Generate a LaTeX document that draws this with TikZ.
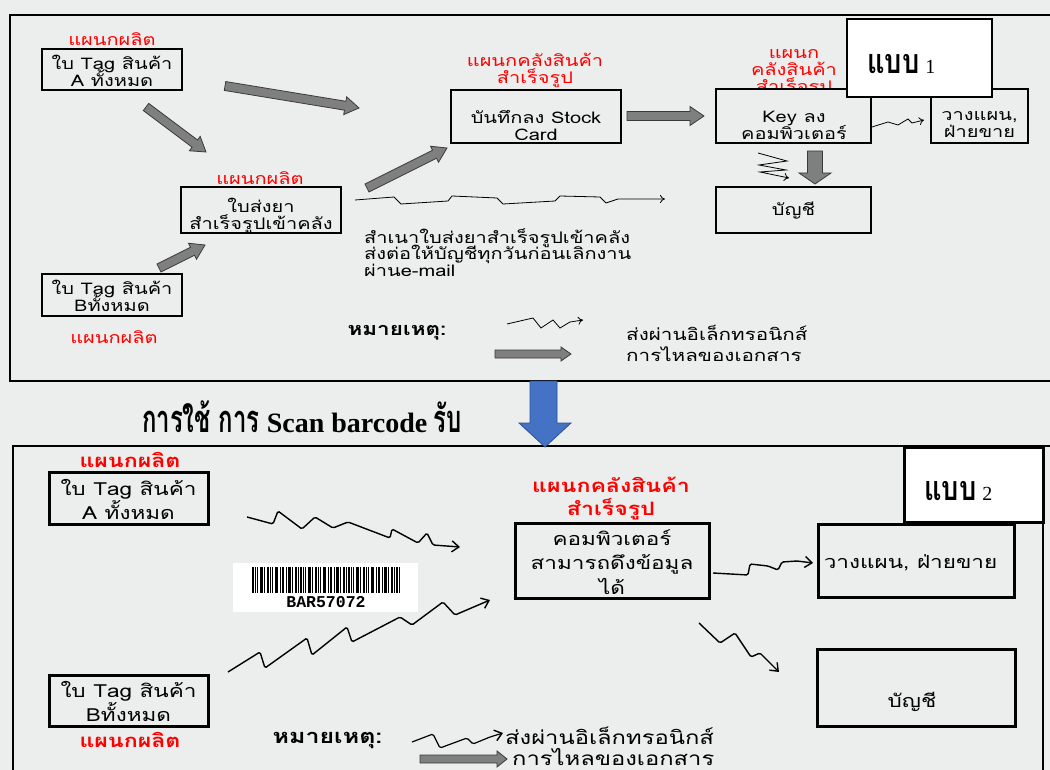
\documentclass[tikz,border=0pt]{standalone}
\usepackage{fontspec}
\setmainfont[Script=Thai, FakeStretch=1.25]{Loma}
\newfontfamily\latinserif{Liberation Serif}
\newfontfamily\barfont{Liberation Mono}
\newfontfamily\thaititle[Script=Thai, FakeStretch=0.63]{Loma}
\newfontfamily\thaimark[Script=Thai, FakeStretch=0.8]{Loma}
\usetikzlibrary{arrows.meta,calc}
\lineskiplimit=-100pt
\definecolor{bg}{HTML}{ECEDED}
\definecolor{lblred}{HTML}{FF0000}
\definecolor{gfill}{HTML}{7F7F7F}
\definecolor{gdraw}{HTML}{3A3A3A}
\definecolor{bluefill}{HTML}{4472C4}
\definecolor{blueedge}{HTML}{2F528F}
\newcommand\garrow[5]{%
  \path[garrowst] let \p1=(#1), \p2=(#2), \n1={atan2(\y2-\y1,\x2-\x1)}, \n2={veclen(\x2-\x1,\y2-\y1)} in
   [shift={(\p1)}, rotate=\n1] (0,-#3) -- ({\n2-#5},-#3) -- ({\n2-#5},-#4) -- (\n2,0) -- ({\n2-#5},#4) -- ({\n2-#5},#3) -- (0,#3) -- cycle;}
\tikzset{
  frame/.style={draw=black, line width=1.5pt},
  box/.style={draw=black, line width=2.6pt, inner sep=0pt},
  boxb/.style={draw=black, line width=3pt, inner sep=0pt},
  ts/.style={font=\fontsize{16}{17}\selectfont, align=center, inner sep=0pt},
  tsl/.style={font=\fontsize{16}{16.5}\selectfont, align=left, inner sep=0pt},
  lbl/.style={text=lblred, font=\fontsize{16}{17}\selectfont, align=center, inner sep=0pt},
  tb/.style={font=\fontsize{18}{24.5}\selectfont, align=center, inner sep=0pt},
  lblb/.style={text=lblred, font=\fontsize{18.5}{23}\selectfont\bfseries, align=center, inner sep=0pt},
  garrowst/.style={fill=gfill, draw=gdraw, line width=0.8pt, line join=miter},
  elec/.style={draw=black, line width=0.8pt, -{To[length=5pt,width=8pt]}},
  elecb/.style={draw=black, line width=1.4pt, rounded corners=1.5pt, -{Straight Barb[length=7pt,width=11pt,line width=1.4pt]}},
}
\begin{document}
\begin{tikzpicture}[x=1pt,y=-1pt]
\useasboundingbox (0,0) rectangle (1050,770);
\fill[bg] (0,0) rectangle (1050,770);
% ---------- frames
\draw[frame] (1060,15) -- (10,15) -- (10,381) -- (1060,381);
\draw[frame] (1060,446) -- (13,446) -- (13,780);
\draw[frame] (1043,446) -- (1043,780);
% ================= TOP (แบบ 1)
\node[lbl] (lblA) at (112,39) {แผนกผลิต};
\node[box, minimum width=140, minimum height=41] (tagA) at (112,69.5) {};
\node[ts] (tagAt) at (112,70.5) {ใบ Tag สินค้า\\A ทั้งหมด};
\node[lbl] (lblS) at (260,178) {แผนกผลิต};
\node[box, minimum width=160, minimum height=46] (slip) at (261,210) {};
\node[ts] (slipt) at (261,216) {ใบส่งยา\\สำเร็จรูปเข้าคลัง};
\node[box, minimum width=140, minimum height=42] (tagB) at (112,295) {};
\node[ts] (tagBt) at (112,296) {ใบ Tag สินค้า\\Bทั้งหมด};
\node[lbl] (lblB) at (114,337) {แผนกผลิต};
\node[lbl] (lblStock) at (535,70.5) {แผนกคลังสินค้า\\สำเร็จรูป};
\node[box, minimum width=170, minimum height=53] (stock) at (536,116.5) {};
\node[ts] (stockt) at (536,125) {บันทึกลง Stock\\Card};
\node[lbl] (lblKey) at (794,73) {แผนก\\คลังสินค้า\\สำเร็จรูป};
\node[box, fill=bg, minimum width=155, minimum height=54] (key) at (793.5,116) {};
\node[ts] (keyt) at (794,125) {Key ลง\\คอมพิวเตอร์};
\node[box, minimum width=97, minimum height=54] (plan) at (979.5,116) {};
\node[ts] (plant) at (979.5,125) {วางแผน,\\ฝ่ายขาย};
\node[box, fill=white, minimum width=145, minimum height=78] (m1) at (919.5,58) {};
\node[inner sep=0pt, anchor=base west] (m1t) at (867,74) {{\thaimark\bfseries\fontsize{34}{36}\selectfont แบบ}\hspace{6pt}{\latinserif\fontsize{20}{22}\selectfont 1}};
\node[box, minimum width=155, minimum height=46] (acct) at (793.5,210) {};
\node[ts] (acctt) at (793.5,211) {บัญชี};
% gray arrows
\coordinate (g1s) at (225,86);  \coordinate (g1e) at (359,108);
\coordinate (g2s) at (146,107); \coordinate (g2e) at (206,152);
\coordinate (g3s) at (367,188); \coordinate (g3e) at (447,148);
\coordinate (g4s) at (159,268); \coordinate (g4e) at (205,245);
\coordinate (g5s) at (627,116); \coordinate (g5e) at (704,116);
\coordinate (g6s) at (815,151); \coordinate (g6e) at (815,184);
\garrow{g1s}{g1e}{4.5}{9}{14}
\garrow{g2s}{g2e}{4.5}{9}{14}
\garrow{g3s}{g3e}{4.5}{9}{14}
\garrow{g4s}{g4e}{4.5}{9}{14}
\garrow{g5s}{g5e}{4.5}{9.5}{14}
\garrow{g6s}{g6e}{7.5}{16}{11}
% electronic links
\coordinate (z1s) at (355,200); \coordinate (z1e) at (665,199);
\draw[elec] (z1s) -- (394,197) -- (401,204) -- (448,201) -- (452,196) -- (497,198) -- (503,204) -- (555,201) -- (560,196) -- (600,197) -- (606,203) -- (618,199) -- (z1e);
\coordinate (z2s) at (872,127); \coordinate (z2e) at (924,120);
\draw[elec] (z2s) -- (888,122) -- (898,125) -- (908,119) -- (912,123) -- (z2e);
\coordinate (z3s) at (758,153); \coordinate (z3e) at (789,178);
\draw[elec] (z3s) -- (787,161) -- (759,165) -- (786,170) -- (760,172) -- (z3e);
\node[tsl, anchor=west] (copyt) at (364,252.5) {สำเนาใบส่งยาสำเร็จรูปเข้าคลัง\\ส่งต่อให้บัญชีทุกวันก่อนเลิกงาน\\ผ่านe-mail};
% legend top
\node[ts, font=\fontsize{18}{20}\selectfont\bfseries] (note1) at (397,333) {หมายเหตุ:};
\coordinate (z4s) at (507,324); \coordinate (z4e) at (583,320);
\draw[elec] (z4s) -- (533,318) -- (541,328) -- (553,320) -- (560,328) -- (570,322) -- (z4e);
\coordinate (g7s) at (495,354); \coordinate (g7e) at (571,354);
\garrow{g7s}{g7e}{4}{7}{10}
\node[tsl, anchor=west, font=\fontsize{16.5}{20}\selectfont] (leg1) at (626,333) {ส่งผ่านอิเล็กทรอนิกส์};
\node[tsl, anchor=west, font=\fontsize{16.5}{20}\selectfont] (leg2) at (626,354) {การไหลของเอกสาร};
% blue arrow
\fill[bluefill, draw=blueedge, line width=0.8pt] (530,381) -- (557,381) -- (557,423) -- (571,423) -- (545,447) -- (519,423) -- (530,423) -- cycle;
% title
\node[inner sep=0pt, anchor=base west] (title) at (142,432) {\bfseries{\thaititle\fontsize{38}{40}\selectfont การใช้ การ}\hspace{7pt}{\latinserif\fontsize{28}{30}\selectfont Scan barcode}\hspace{6pt}{\thaititle\fontsize{38}{40}\selectfont รับ}};
% ================= BOTTOM (แบบ 2)
\node[lblb] (lblA2) at (130,460) {แผนกผลิต};
\node[boxb, minimum width=159, minimum height=52] (tagA2) at (128.5,498) {};
\node[tb] (tagA2t) at (128.5,499.5) {ใบ Tag สินค้า\\A ทั้งหมด};
\node[boxb, minimum width=159, minimum height=51] (tagB2) at (128.5,700.5) {};
\node[tb] (tagB2t) at (128.5,701.5) {ใบ Tag สินค้า\\Bทั้งหมด};
\node[lblb] (lblB2) at (130,740) {แผนกผลิต};
\node[lblb] (lblC2) at (611,498.5) {แผนกคลังสินค้า\\สำเร็จรูป};
\node[boxb, minimum width=194, minimum height=75] (comp) at (612,560.5) {};
\node[tb] (compt) at (612,562) {คอมพิวเตอร์\\สามารถดึงข้อมูล\\ได้};
\node[boxb, minimum width=196, minimum height=73] (plan2) at (916,560.5) {};
\node[tb] (plan2t) at (910.5,563) {วางแผน, ฝ่ายขาย};
\node[boxb, fill=white, minimum width=139, minimum height=75] (m2) at (973.5,484.5) {};
\node[inner sep=0pt, anchor=base west] (m2t) at (924,500) {{\thaimark\bfseries\fontsize{34}{36}\selectfont แบบ}\hspace{6pt}{\latinserif\fontsize{20}{22}\selectfont 2}};
\node[boxb, minimum width=198, minimum height=77] (acct2) at (916,687.5) {};
\node[tb] (acct2t) at (912,702) {บัญชี};
% barcode
\node[fill=white, minimum width=185, minimum height=49, inner sep=0pt] (bc) at (325.5,587.5) {};
\foreach \r in {0,48,96}
  \foreach \o/\w in {0/2,3/1,5/1,8/3,12/1,15/2,18/1,20/1,23/3,28/1,30/2,34/1,36/3,40/1,43/2,46/1}
    \fill[black] ({252+\r+\o},567) rectangle ++(\w,26);
\fill[black] (396,567) rectangle ++(2,26);
\fill[black] (399,567) rectangle ++(1,26);
\node[inner sep=0pt] (bct) at (326,602) {\barfont\bfseries\fontsize{16.5}{17}\selectfont BAR57072};
% electronic links bottom
\coordinate (zAs) at (247,517); \coordinate (zAe) at (460,547);
\draw[elecb] (zAs) -- (273,524) -- (278,511) -- (302,529) -- (315,517) -- (333,528) -- (348,522) -- (390,538) -- (392,529) -- (418,543) -- (427,533) -- (433,545) -- (zAe);
\coordinate (zBs) at (228,672); \coordinate (zBe) at (490,600);
\draw[elecb] (zBs) -- (260,652) -- (265,668) -- (307,638) -- (312,655) -- (347,627) -- (352,642) -- (400,617) -- (412,625) -- (443,602) -- (455,615) -- (zBe);
\coordinate (zCs) at (713,573); \coordinate (zCe) at (813,563);
\draw[elecb] (zCs) -- (748,575) -- (750,564) -- (768,566) -- (778,570) -- (782,562) -- (797,561) -- (zCe);
\coordinate (zDs) at (699,623); \coordinate (zDe) at (779,672);
\draw[elecb] (zDs) -- (720,643) -- (735,633) -- (751,657) -- (760,653) -- (zDe);
% legend bottom
\node[tb, font=\fontsize{20}{20}\selectfont\bfseries] (note2) at (327.5,740) {หมายเหตุ:};
\coordinate (zLs) at (412,742); \coordinate (zLe) at (503,733);
\draw[elecb, line width=1.2pt] (zLs) -- (433,734) -- (440,748) -- (467,738) -- (473,744) -- (490,737) -- (zLe);
\coordinate (g8s) at (420,759); \coordinate (g8e) at (507,759);
\garrow{g8s}{g8e}{4}{8}{10}
\node[tb, anchor=west, font=\fontsize{19}{20}\selectfont] (leg3) at (505,736) {ส่งผ่านอิเล็กทรอนิกส์};
\node[tb, anchor=west, font=\fontsize{19}{20}\selectfont] (leg4) at (512,757) {การไหลของเอกสาร};
\end{tikzpicture}
\end{document}
